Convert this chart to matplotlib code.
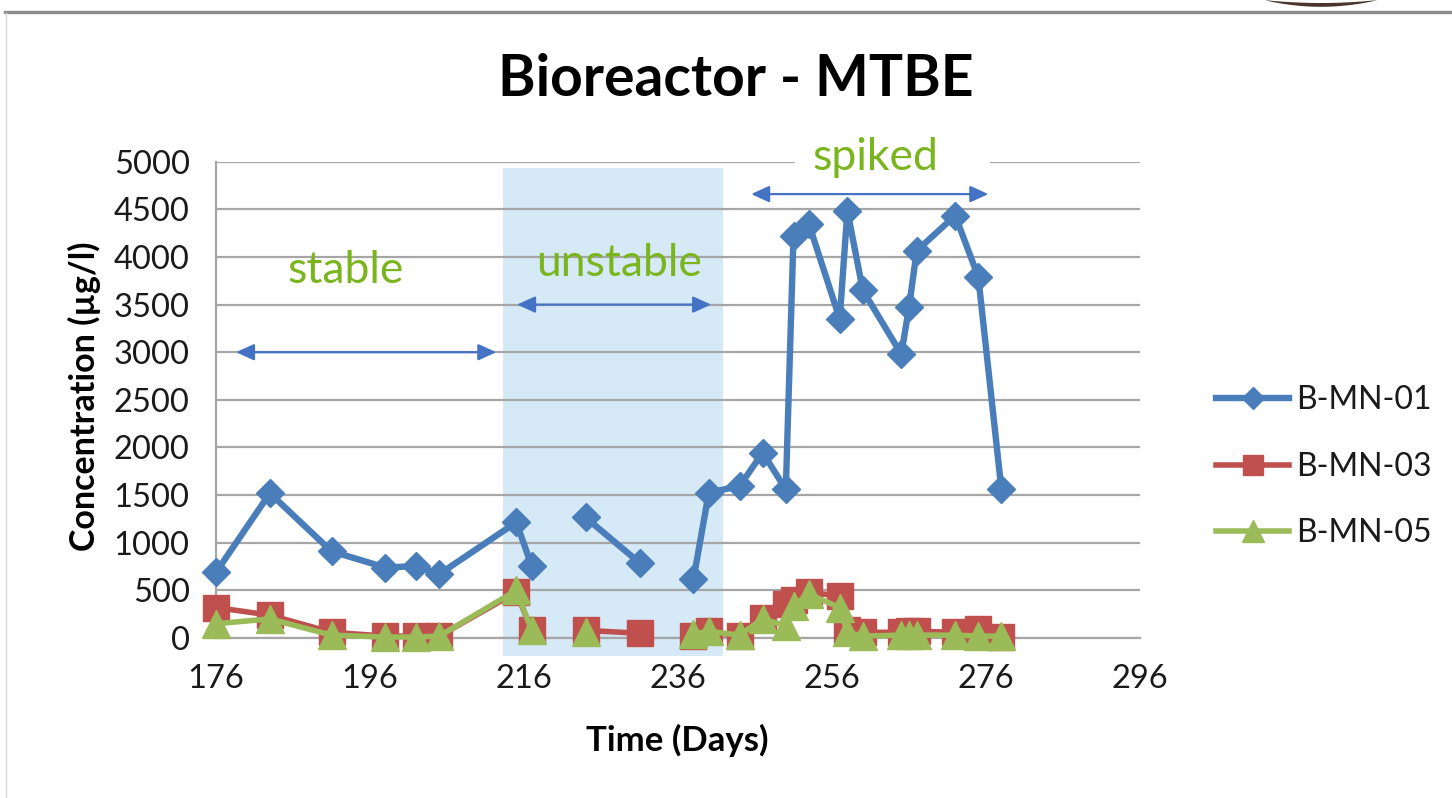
import numpy as np
import matplotlib
matplotlib.use("Agg")
import matplotlib.pyplot as plt
from matplotlib.patches import Rectangle, Polygon
from matplotlib.lines import Line2D

nan = np.nan

# ---- data ----
days = [176, 183, 191, 198, 202, 205, 215, 217, 221, 224, 231, 234, 238, 240,
        244, 247, 250, 251, 253, 257, 258, 260, 265, 266, 267, 272, 275, 278]
mn01 = [690, 1520, 910, 740, 755, 670, 1215, 755, nan, 1265, 790, nan, 615, 1525,
        1595, 1945, 1560, 4220, 4345, 3350, 4485, 3650, 2980, 3470, 4065, 4435, 3790, 1560]
mn03 = [320, 240, 60, 20, 20, 20, 480, 80, nan, 80, 50, nan, 20, 70,
        20, 210, 360, 400, 480, 440, 80, 60, 60, 70, 70, 60, 90, 10]
mn05 = [150, 200, 30, 10, 10, 20, 500, 80, nan, 60, nan, nan, 40, 70,
        30, 200, 130, 340, 460, 320, 60, 20, 30, 30, 30, 30, 20, 20]
series_names = ["B-MN-01", "B-MN-03", "B-MN-05"]

x_ticks = [176, 196, 216, 236, 256, 276, 296]
y_ticks = [0, 500, 1000, 1500, 2000, 2500, 3000, 3500, 4000, 4500, 5000]

title = "Bioreactor - MTBE"
xlabel = "Time (Days)"
ylabel = "Concentration (µg/l)"

phase_labels = ["stable", "unstable", "spiked"]
phase_label_pos = [(192.9, 3855), (228.3, 3929), (261.7, 5040)]
phase_arrows = [(178.6, 212.4, 3000), (215.1, 240.3, 3500), (245.5, 276.3, 4660)]
unstable_band = (213.3, 241.8, -190, 4937)

# ---- style ----
plt.rcParams['font.family'] = ['Lato', 'DejaVu Sans']
BLUE = '#4A7EBB'
RED = '#C0504D'
GREEN = '#9BBB59'
TXT = '#1a1a1a'
GRID = '#A6A6A6'
ANN_GREEN = '#7AB51D'
ARROW_BLUE = '#4472C4'

W, H = 1452, 798
fig = plt.figure(figsize=(W / 100, H / 100), dpi=100)
fig.patch.set_facecolor('white')

# page decoration
fig.add_artist(Line2D([5 / W, 1.0], [1 - 11.5 / H, 1 - 11.5 / H], color='#8C8C8C', lw=2.4))
fig.add_artist(Line2D([5.5 / W, 5.5 / W], [0, 1 - 13 / H], color='#D9D9D9', lw=1.0))
t = np.linspace(0, 1, 30)
xs = 1265 + t * (1377 - 1265)
lower = 6.8 * np.sin(np.pi * t) ** 0.8
upper = 3.0 * np.sin(np.pi * t) ** 0.8
pts = [(x, y) for x, y in zip(xs, lower)] + [(x, y) for x, y in zip(xs[::-1], upper[::-1])]
fig.add_artist(Polygon([(x / W, 1 - y / H) for x, y in pts], closed=True,
                       facecolor='#4B342B', edgecolor='none', transform=fig.transFigure))

ax_left, ax_right, ax_top, ax_bot = 216, 1140, 161.7, 638
ax = fig.add_axes([ax_left / W, 1 - ax_bot / H, (ax_right - ax_left) / W, (ax_bot - ax_top) / H])
ax.set_xlim(176, 296)
ax.set_ylim(0, 5000)
ax.set_xticks(x_ticks)
ax.set_yticks(y_ticks)
ax.tick_params(length=0, labelsize=23.5, colors=TXT, pad=19)
ax.set_axisbelow(True)
ax.grid(axis='y', color=GRID, lw=1.6)
ax.grid(axis='x', visible=False)
for s in ['top', 'right']:
    ax.spines[s].set_visible(False)
ax.spines['left'].set_color(GRID)
ax.spines['left'].set_linewidth(1.6)
ax.spines['bottom'].set_color(GRID)
ax.spines['bottom'].set_linewidth(1.6)

# shaded unstable band
bx0, bx1, by0, by1 = unstable_band
ax.add_patch(Rectangle((bx0, by0), bx1 - bx0, by1 - by0, facecolor='#D5E9F6',
                       edgecolor='none', zorder=0.3, clip_on=False))

# series
ax.plot(days, mn01, color=BLUE, lw=4.6, marker='D', ms=14.5, mec=BLUE, mfc=BLUE,
        label=series_names[0], zorder=3, clip_on=False)
ax.plot(days, mn03, color=RED, lw=4.0, marker='s', ms=18.5, mec=RED, mfc=RED,
        label=series_names[1], zorder=4, clip_on=False)
ax.plot(days, mn05, color=GREEN, lw=4.0, marker='^', ms=20.5, mec=GREEN, mfc=GREEN,
        label=series_names[2], zorder=5, clip_on=False)

# white box behind "spiked"
ax.add_patch(Rectangle((251.2, 4790), 276.5 - 251.2, 500, facecolor='white',
                       edgecolor='none', zorder=0.8, clip_on=False))

for (lab, (tx, ty)) in zip(phase_labels, phase_label_pos):
    ax.text(tx, ty, lab, color=ANN_GREEN, fontsize=32, ha='center', va='center',
            zorder=6, clip_on=False)

for (x0, x1, yy) in phase_arrows:
    ax.annotate('', xy=(x1, yy), xytext=(x0, yy),
                arrowprops=dict(arrowstyle='<|-|>,head_length=0.55,head_width=0.25',
                                color=ARROW_BLUE, lw=1.6, shrinkA=0, shrinkB=0,
                                mutation_scale=20),
                zorder=6, annotation_clip=False)

# titles / labels
fig.text(736 / W, 1 - 80 / H, title, fontsize=41, fontweight='bold', color='black',
         ha='center', va='center')
fig.text(677 / W, 1 - 740 / H, xlabel, fontsize=25, fontweight='bold', color='black',
         ha='center', va='center')
fig.text(84 / W, 1 - 396 / H, ylabel, fontsize=24.5, fontweight='bold', color='black',
         ha='center', va='center', rotation=90)

leg = ax.legend(loc='upper left', bbox_to_anchor=(1216 / W, 1 - 385 / H),
                bbox_transform=fig.transFigure, frameon=False, fontsize=23,
                borderpad=0, borderaxespad=0, handlelength=2.3, handletextpad=0.2,
                labelspacing=1.15, markerscale=0.75)
for tx in leg.get_texts():
    tx.set_color(TXT)

fig.savefig('out.png', dpi=100)
